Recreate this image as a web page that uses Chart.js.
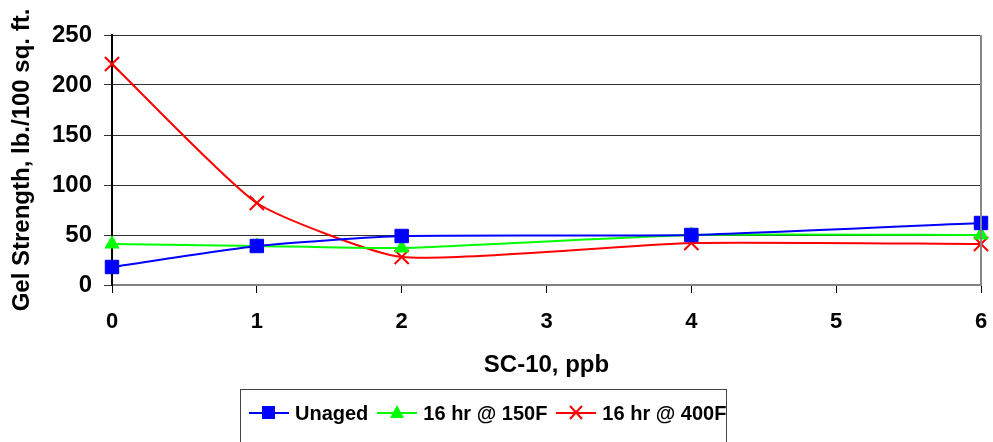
<!DOCTYPE html>
<html>
<head>
<meta charset="utf-8">
<script src="https://cdn.jsdelivr.net/npm/chart.js@4.4.1/dist/chart.umd.min.js"></script>
<style>
  html, body { margin: 0; padding: 0; background: #fff; }
  #wrap { position: relative; width: 993px; height: 442px; overflow: hidden; }
  #legend {
    position: absolute; left: 240px; top: 389px; width: 487px; height: 70px;
    border: 1px solid #444; box-sizing: border-box;
    display: flex; align-items: flex-start; padding: 11px 0 0 8px;
    font: bold 20px "Liberation Sans", Arial, sans-serif; color: #000;
    white-space: nowrap;
  }
  .item { display: flex; align-items: center; height: 24px; margin-right: 9px; }
  .item svg { margin-right: 6px; flex: none; }
</style>
</head>
<body>
<div id="wrap">
  <canvas id="gelChart" width="993" height="442"></canvas>
  <div id="legend"></div>
</div>
<script>
const xValues = [0, 1, 2, 4, 6];
const seriesNames = ["Unaged", "16 hr @ 150F", "16 hr @ 400F"];
const unaged = [18, 39, 49, 50, 62];
const aged150 = [41, 39, 37, 50, 50];
const aged400 = [221, 82, 28, 42, 41];
const yTicks = [0, 50, 100, 150, 200, 250];
const xTicks = [0, 1, 2, 3, 4, 5, 6];

const fontFamily = "'Liberation Sans', Arial, sans-serif";
const yTickFont = { family: fontFamily, size: 24, weight: "bold" };
const xTickFont = { family: fontFamily, size: 22, weight: "bold" };
const titleFont = { family: fontFamily, size: 24, weight: "bold" };

const toPoints = (vals) => vals.map((v, i) => ({ x: xValues[i], y: v }));

const series = [
  { label: seriesNames[0], data: unaged, color: "#0000FF", style: "rect", radius: 9.5, width: 1 },
  { label: seriesNames[1], data: aged150, color: "#00FF00", style: "triangle", radius: 8, width: 1 },
  { label: seriesNames[2], data: aged400, color: "#FF0000", style: "crossRot", radius: 10, width: 2 },
];

// grey frame on the right side of the plot area
const rightEdge = {
  id: "rightEdge",
  afterDraw(chart) {
    const { ctx, chartArea } = chart;
    ctx.save();
    ctx.strokeStyle = "#888";
    ctx.lineWidth = 2;
    ctx.beginPath();
    ctx.moveTo(chartArea.right, chartArea.top);
    ctx.lineTo(chartArea.right, chartArea.bottom);
    ctx.stroke();
    ctx.restore();
  },
};

new Chart(document.getElementById("gelChart").getContext("2d"), {
  type: "scatter",
  data: {
    datasets: series.map((s) => ({
      label: s.label,
      data: toPoints(s.data),
      showLine: true,
      borderColor: s.color,
      backgroundColor: s.color,
      borderWidth: 2,
      tension: 0.17,
      pointStyle: s.style,
      pointRadius: s.radius,
      pointHoverRadius: s.radius,
      pointBorderWidth: s.width,
      pointBackgroundColor: s.color,
      pointBorderColor: s.color,
      clip: false,
    })),
  },
  options: {
    responsive: false,
    animation: false,
    layout: { padding: { top: 35, right: 8, left: 0, bottom: 0 } },
    plugins: {
      legend: { display: false },
      tooltip: { enabled: false },
    },
    scales: {
      x: {
        type: "linear",
        min: 0,
        max: 6,
        afterFit: (scale) => {
          scale.height = 157;
          scale.paddingLeft = 0;
          scale.paddingRight = 0;
        },
        afterBuildTicks: (scale) => { scale.ticks = xTicks.map((v) => ({ value: v })); },
        ticks: { font: xTickFont, color: "#000", padding: 16 },
        grid: { drawOnChartArea: false, drawTicks: true, tickLength: 8, color: "#000" },
        border: { color: "#808080", width: 2 },
        title: { display: true, text: "SC-10, ppb", font: titleFont, color: "#000", padding: { bottom: 62 } },
      },
      y: {
        min: 0,
        max: 250,
        afterFit: (scale) => { scale.width = 112; },
        afterBuildTicks: (scale) => { scale.ticks = yTicks.map((v) => ({ value: v })); },
        ticks: { font: yTickFont, color: "#000", padding: 12 },
        grid: { color: "#333", tickLength: 8 },
        border: { color: "#000", width: 2 },
        title: { display: true, text: "Gel Strength, lb./100 sq. ft.", font: titleFont, color: "#000", padding: { top: 8 } },
      },
    },
  },
  plugins: [rightEdge],
});

// legend: line sample with marker, then the series name
const markerSvg = (s) => {
  let mark = "";
  if (s.style === "rect") {
    mark = `<rect x="13" y="5" width="13" height="13" fill="${s.color}"/>`;
  } else if (s.style === "triangle") {
    mark = `<polygon points="20,4 27,17 13,17" fill="${s.color}"/>`;
  } else {
    mark = `<path d="M14,5 L26,18 M26,5 L14,18" stroke="${s.color}" stroke-width="2"/>`;
  }
  return `<svg width="40" height="24" viewBox="0 0 40 24">
    <line x1="0" y1="12" x2="40" y2="12" stroke="${s.color}" stroke-width="2"/>${mark}</svg>`;
};

document.getElementById("legend").innerHTML = series
  .map((s) => `<div class="item">${markerSvg(s)}<span>${s.label}</span></div>`)
  .join("");
</script>
</body>
</html>
